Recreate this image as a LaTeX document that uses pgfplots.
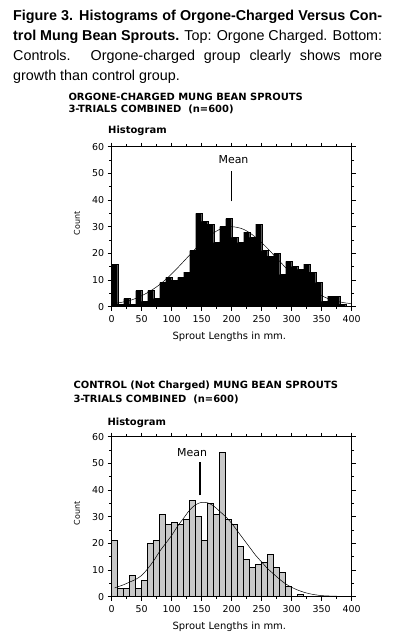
\documentclass[border=0pt]{standalone}
\usepackage{pgfplots}
\pgfplotsset{compat=1.18}
\usepackage{fontspec}
\setmainfont{Liberation Sans}
\newfontfamily\dv{DejaVu Sans}
\definecolor{bargray}{HTML}{C8C8C8}
\pgfplotsset{
  hist/.style={
    scale only axis, width=240bp, height=160bp,
    xmin=0, xmax=400, ymin=0, ymax=60,
    xtick={0,50,...,400}, minor x tick num=1,
    ytick={0,10,...,60}, minor y tick num=1,
    tick align=outside,
    major tick length=4bp, minor tick length=2.5bp,
    axis line style={line width=0.8pt},
    tick style={black, line width=0.6pt},
    /pgf/number format/assume math mode=true,
    tick label style={font=\dv\fontsize{9.5}{11}\selectfont},
    xlabel={Sprout Lengths in mm.},
    xlabel style={font=\dv\fontsize{10}{12}\selectfont, at={(axis description cs:0.49,-0.185)}, anchor=center},
    ylabel={Count},
    ylabel style={font=\dv\fontsize{8}{9}\selectfont, at={(axis description cs:-0.145,0.52)}, anchor=center},
    xticklabel style={yshift=-1bp},
    clip=false,
  }
}
\begin{document}
\begin{tikzpicture}
\path[use as bounding box, fill=white] (0,0) rectangle (393bp,637bp);

% caption
\node[anchor=base west, inner sep=0pt] at (13bp,616bp) {\parbox[t]{369bp}{\fontsize{14.4}{20}\selectfont
\makebox[369bp][s]{\textbf{Figure 3. Histograms of Orgone-Charged Versus Con-}}\\
\makebox[369bp][s]{\textbf{trol Mung Bean Sprouts.} Top: Orgone Charged. Bottom:}\\
\makebox[369bp][s]{Controls. Orgone-charged group clearly shows more}\\
growth than control group.}};

% top chart titles
\node[anchor=west, inner sep=0pt, font=\dv\bfseries\fontsize{10}{12}\selectfont] at (68.3bp,540.3bp) {ORGONE-CHARGED MUNG BEAN SPROUTS};
\node[anchor=west, inner sep=0pt, font=\dv\bfseries\fontsize{10}{12}\selectfont] at (68.3bp,527.5bp) {3-TRIALS COMBINED\ \ (n=600)};
\node[anchor=west, inner sep=0pt, font=\dv\bfseries\fontsize{10}{12}\selectfont] at (108bp,506.3bp) {Histogram};

% bottom chart titles
\node[anchor=west, inner sep=0pt, font=\dv\bfseries\fontsize{10}{12}\selectfont] at (73.3bp,251.3bp) {CONTROL (Not Charged) MUNG BEAN SPROUTS};
\node[anchor=west, inner sep=0pt, font=\dv\bfseries\fontsize{10}{12}\selectfont] at (73.3bp,237.7bp) {3-TRIALS COMBINED\ \ (n=600)};
\node[anchor=west, inner sep=0pt, font=\dv\bfseries\fontsize{10}{12}\selectfont] at (107.3bp,214.7bp) {Histogram};

% top histogram
\begin{axis}[hist, at={(111.7bp,330.3bp)}, anchor=south west]
\addplot[ybar interval, fill=black, draw=black, line width=0.4pt] coordinates {
(0,16)(10,1)(20,3)(30,1)(40,6)(50,2)(60,6)(70,3)(80,9)(90,11)
(100,10)(110,11)(120,13)(130,21)(140,35)(150,32)(160,31)(170,24)(180,30)(190,33)
(200,26)(210,24)(220,28)(230,26)(240,31)(250,21)(260,19)(270,20)(280,12)(290,17)
(300,15)(310,14)(320,16)(330,13)(340,9)(350,2)(360,4)(370,4)(380,1)(390,0)(400,0)};
\addplot[black, line width=0.5pt, smooth] coordinates {
(0,1.1)(10,1.4)(20,1.8)(30,2.3)(40,3.1)(50,4.1)(60,5.3)(70,6.7)(80,8.3)(90,10.2)
(100,12.3)(110,14.6)(120,17.0)(130,19.4)(140,21.8)(150,24.0)(160,26.0)(170,27.7)(180,29.0)(190,29.7)
(200,30.0)(210,29.7)(220,29.0)(230,27.7)(240,26.0)(250,24.0)(260,21.8)(270,19.4)(280,17.0)(290,14.6)
(300,12.3)(310,10.2)(320,8.3)(330,6.7)(340,5.3)(350,4.1)(360,3.1)(370,2.3)(380,1.8)(390,1.4)(400,1.1)};
\draw[line width=1.6pt] (axis cs:200,39.5) -- (axis cs:200,51);
\node[font=\dv\fontsize{11}{13}\selectfont] at (axis cs:203,55.2) {Mean};
\end{axis}

% bottom histogram
\begin{axis}[hist, at={(111.7bp,40.3bp)}, anchor=south west]
\addplot[ybar interval, fill=bargray, draw=black, line width=0.7pt] coordinates {
(0,21)(10,3)(20,3)(30,8)(40,3)(50,6)(60,20)(70,21)(80,31)(90,27)
(100,28)(110,27)(120,29)(130,36)(140,30)(150,21)(160,35)(170,31)(180,54)(190,29)
(200,27)(210,19)(220,14)(230,11)(240,12)(250,13)(260,16)(270,11)(280,9)(290,4)
(300,0)(310,1)(320,0)};
\addplot[black, line width=0.5pt, smooth] coordinates {
(5,3.3)(20,4.5)(30,5.5)(40,6.5)(50,8)(60,10.5)(70,13.5)(80,17)(90,20)(100,23)
(110,26.5)(120,29.5)(130,32.5)(140,34.5)(150,35.4)(160,35.2)(170,34)(180,32)(190,30)(200,27.5)
(210,24.5)(220,21.5)(230,18.5)(240,15.5)(250,13)(260,10.5)(270,8.5)(280,6.5)(290,4.8)(300,3.5)
(310,2.5)(320,1.7)(330,1.1)(340,0.7)(350,0.4)(370,0.2)(400,0.05)};
\draw[line width=1.6pt] (axis cs:147,38) -- (axis cs:147,50.6);
\node[font=\dv\fontsize{11}{13}\selectfont] at (axis cs:134,54.2) {Mean};
\end{axis}
\end{tikzpicture}
\end{document}
